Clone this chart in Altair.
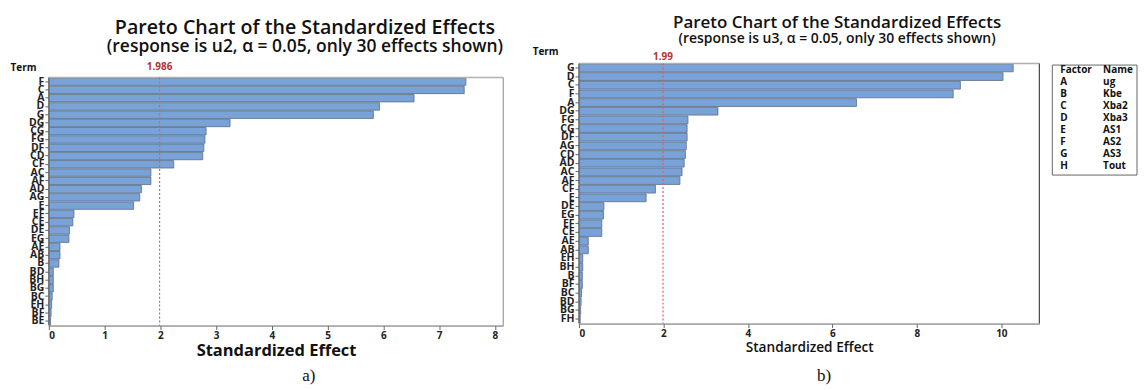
import altair as alt
import pandas as pd

# ---------------- data ----------------
terms_a = ["F", "C", "A", "D", "G", "DG", "CG", "FG", "DF", "CD", "CF", "AC", "AF", "AD", "AG",
           "E", "EF", "CE", "DE", "EG", "AE", "AB", "B", "BD", "BH", "BG", "BC", "EH", "BF", "BE"]
effects_a = [7.48, 7.45, 6.55, 5.93, 5.82, 3.25, 2.82, 2.80, 2.78, 2.76, 2.24, 1.83, 1.83, 1.66, 1.63,
             1.52, 0.45, 0.43, 0.37, 0.36, 0.20, 0.20, 0.18, 0.08, 0.08, 0.08, 0.06, 0.05, 0.04, 0.03]
crit_a = 1.986

terms_b = ["G", "D", "C", "F", "A", "DG", "FG", "CG", "DF", "AG", "CD", "AD", "AC", "AF", "CF",
           "E", "DE", "EG", "EF", "CE", "AE", "AB", "EH", "BH", "B", "BF", "BC", "BD", "BG", "FH"]
effects_b = [10.28, 10.04, 9.03, 8.86, 6.57, 3.29, 2.58, 2.56, 2.56, 2.54, 2.52, 2.49, 2.44, 2.39, 1.81,
             1.59, 0.59, 0.58, 0.54, 0.54, 0.22, 0.22, 0.09, 0.09, 0.08, 0.08, 0.06, 0.05, 0.04, 0.03]
crit_b = 1.99

xticks_a = [0, 1, 2, 3, 4, 5, 6, 7, 8]
xticks_b = [0, 2, 4, 6, 8, 10]

factors = ["Factor", "A", "B", "C", "D", "E", "F", "G", "H"]
names = ["Name", "ug", "Kbe", "Xba2", "Xba3", "AS1", "AS2", "AS3", "Tout"]

FONT = "Open Sans"
BAR_FILL = "#79a3d8"
BAR_STROKE = "#5d6d80"
RED = "#e35d5d"
RED_TXT = "#b83232"


def panel(terms, effects, crit, crit_text, W, H, top, xmax, xticks, *,
          pad_outer, band_align,
          title_size, sub_size, sub_text, title_dx, title_offset,
          xtitle_size, xtitle_weight, term_x, term_y, crit_y,
          caption, cap_x, cap_y, top_color, right_color):
    df = pd.DataFrame({"term": terms, "effect": effects})
    xscale = alt.Scale(domain=[0, xmax], nice=False, zero=True)
    x = alt.X("effect:Q", scale=xscale,
              axis=alt.Axis(values=xticks, format="d", title="Standardized Effect", grid=False,
                            labelFont=FONT, labelFontSize=10, labelFontWeight="bold",
                            labelColor="#222", tickColor="#666", tickSize=4,
                            domainColor="#666", labelPadding=1,
                            titleFont=FONT, titleFontSize=xtitle_size,
                            titleFontWeight=xtitle_weight, titleColor="#111",
                            titlePadding=2))
    y = alt.Y("term:N", sort=terms,
              scale=alt.Scale(paddingInner=0.1, paddingOuter=pad_outer, align=band_align),
              axis=alt.Axis(title="Term", titleAngle=0, titleAlign="left",
                            titleBaseline="middle", titleX=term_x, titleY=term_y,
                            titleFont=FONT, titleFontSize=10, titleFontWeight="bold",
                            titleColor="#111", domain=False,
                            labelFont=FONT, labelFontSize=10.5, labelFontWeight="bold",
                            labelColor="#222", labelPadding=1, tickColor="#666",
                            tickSize=4))
    bars = alt.Chart(df).mark_bar(fill=BAR_FILL, stroke=BAR_STROKE, strokeWidth=0.8).encode(x=x, y=y)

    # frame of the plot area
    left_edge = alt.Chart(df.head(1)).mark_rule(color="#666", strokeWidth=1.2).encode(
        x=alt.datum(0), y=alt.value(top), y2=alt.value(H))
    right_edge = alt.Chart(df.head(1)).mark_rule(color=right_color, strokeWidth=1.2).encode(
        x=alt.datum(xmax), y=alt.value(top), y2=alt.value(H))
    top_edge = alt.Chart(df.head(1)).mark_rule(color=top_color, strokeWidth=1.6).encode(
        x=alt.datum(0), x2=alt.datum(xmax), y=alt.value(top))

    cdf = pd.DataFrame({"c": [crit], "t": [crit_text]})
    rule = alt.Chart(cdf).mark_rule(color=RED, strokeDash=[2, 2], strokeWidth=1.2).encode(
        x="c:Q", y=alt.value(top), y2=alt.value(H))
    lab = alt.Chart(cdf).mark_text(color=RED_TXT, font=FONT, fontSize=10, fontWeight="bold",
                                   baseline="middle").encode(
        x="c:Q", y=alt.value(crit_y), text="t:N")
    cap = alt.Chart(pd.DataFrame({"t": [caption]})).mark_text(
        font="Liberation Serif", fontSize=17, color="#111", baseline="alphabetic").encode(
        x=alt.value(cap_x), y=alt.value(cap_y), text="t:N")
    layer = alt.layer(bars, top_edge, right_edge, left_edge, rule, lab, cap).properties(
        width=W, height=H,
        view=alt.ViewBackground(stroke="transparent"),
        title=alt.TitleParams(
            text="Pareto Chart of the Standardized Effects",
            subtitle=sub_text, anchor="middle", frame="group", dx=title_dx, offset=title_offset,
            font=FONT, fontSize=title_size, fontWeight=600, color="#111",
            subtitleFont=FONT, subtitleFontSize=sub_size, subtitleFontWeight=600,
            subtitleColor="#111", subtitlePadding=0))
    return layer


# panel a: plot frame starts TOP_A px below the shared top line of both panels
WA, HA, TOP_A = 456, 263, 14
WB, HB, TOP_B = 462, 261, 0

A = panel(terms_a, effects_a, crit_a, "1.986", WA, HA, TOP_A, 8.15, xticks_a,
          pad_outer=0.904, band_align=0.967,
          title_size=19.7, sub_size=17.5,
          sub_text="(response is u2, α = 0.05, only 30 effects shown)",
          title_dx=29, title_offset=7, xtitle_size=16.5, xtitle_weight="bold",
          term_x=-39, term_y=4, crit_y=4,
          caption="a)", cap_x=261, cap_y=HA + 56, top_color="#b0b0b0", right_color="#999999")

B_main = panel(terms_b, effects_b, crit_b, "1.99", WB, HB, TOP_B, 10.9, xticks_b,
               pad_outer=0.06, band_align=0.5,
               title_size=17, sub_size=14,
               sub_text="(response is u3, α = 0.05, only 30 effects shown)",
               title_dx=28, title_offset=0, xtitle_size=13.7, xtitle_weight=600,
               term_x=-47, term_y=-12, crit_y=-6,
               caption="b)", cap_x=246, cap_y=HB + 58, top_color="#b0b0b0", right_color="#444444")

# legend table (factor / name) drawn beside panel b
leg = pd.DataFrame({"factor": factors, "name": names, "row": list(range(len(factors)))})
ly_scale = alt.Scale(domain=[-7 / 12, HB / 12 - 7 / 12], nice=False, zero=False, reverse=True)
box_df = pd.DataFrame({"y0": [-0.45], "y1": [8.75]})
box = alt.Chart(box_df).mark_rect(fill="white", stroke="#666", strokeWidth=1).encode(
    x=alt.value(WB + 13), x2=alt.value(WB + 98),
    y=alt.Y("y0:Q", scale=ly_scale, axis=None), y2="y1:Q")
t1 = alt.Chart(leg).mark_text(align="left", baseline="middle", font=FONT, fontSize=10,
                              fontWeight="bold", color="#111").encode(
    x=alt.value(WB + 21), y=alt.Y("row:Q", scale=ly_scale, axis=None), text="factor:N")
t2 = alt.Chart(leg).mark_text(align="left", baseline="middle", font=FONT, fontSize=10,
                              fontWeight="bold", color="#111").encode(
    x=alt.value(WB + 64), y=alt.Y("row:Q", scale=ly_scale, axis=None), text="name:N")
legend = alt.layer(box, t1, t2)

B = alt.layer(B_main, legend).resolve_scale(y="independent")

chart = alt.concat(A, B, columns=2, spacing=26).properties(
    padding={"left": 1, "top": 4, "right": 0, "bottom": 0}
).configure(font=FONT, background="white")

chart.save("out.html", embed_options={"renderer": "svg", "actions": False})
